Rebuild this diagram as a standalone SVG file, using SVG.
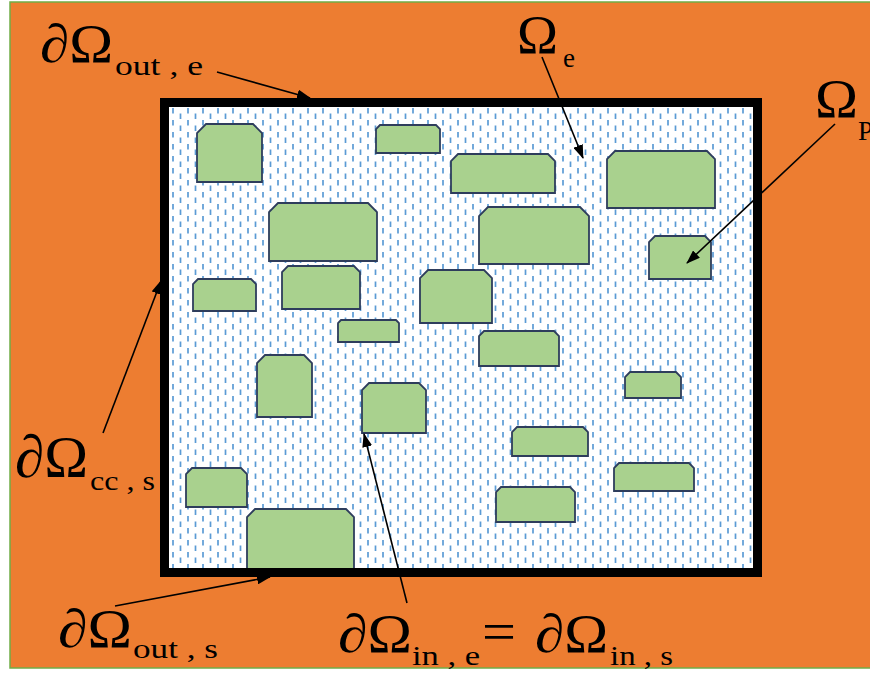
<svg xmlns="http://www.w3.org/2000/svg" width="870" height="675" viewBox="0 0 870 675">
<style>
.p{fill:#a9d18e;stroke:#2e3d5c;stroke-width:1.8;stroke-linejoin:miter}
.big{font-family:"Liberation Serif","DejaVu Serif",serif;font-size:54px;fill:#000}
.sub{font-family:"Liberation Serif","DejaVu Serif",serif;font-size:27px;fill:#000}
.ar{stroke:#000;stroke-width:1.6;fill:none;marker-end:url(#ah)}
</style>
<defs>
<pattern id="dash" patternUnits="userSpaceOnUse" x="169" y="107" width="15" height="12">
<rect width="15" height="12" fill="#ffffff"/>
<line x1="4" y1="1" x2="4" y2="6.5" stroke="#5b9bd5" stroke-width="1.7"/>
<line x1="11.5" y1="6.5" x2="11.5" y2="12" stroke="#5b9bd5" stroke-width="1.7"/>
</pattern>
<marker id="ah" markerUnits="userSpaceOnUse" markerWidth="14" markerHeight="10" refX="13" refY="5" orient="auto">
<path d="M0,0 L14,5 L0,10 z" fill="#000"/>
</marker>
</defs>
<rect x="0" y="0" width="870" height="675" fill="#ffffff"/>
<rect id="background" x="10" y="2" width="862" height="666" fill="#ed7d31" stroke="#70ad47" stroke-width="1.5"/>
<g id="domain">
<rect x="164" y="102" width="594" height="471" fill="url(#dash)"/>
</g>
<g id="particles">
<g id="p1"><path class="p" d="M197,182 L197,133 L206,124 L253,124 L262,133 L262,182 Z"/></g>
<g id="p2"><path class="p" d="M376,153 L376,129 L380,125 L436,125 L440,129 L440,153 Z"/></g>
<g id="p3"><path class="p" d="M451,193 L451,161 L458,154 L548,154 L555,161 L555,193 Z"/></g>
<g id="p4"><path class="p" d="M607,208 L607,159 L615,151 L707,151 L715,159 L715,208 Z"/></g>
<g id="p5"><path class="p" d="M269,261 L269,212 L278,203 L368,203 L377,212 L377,261 Z"/></g>
<g id="p6"><path class="p" d="M479,264 L479,216 L488,207 L580,207 L589,216 L589,264 Z"/></g>
<g id="p7"><path class="p" d="M649,279 L649,242 L655,236 L705,236 L711,242 L711,279 Z"/></g>
<g id="p8"><path class="p" d="M193,311 L193,284 L198,279 L251,279 L256,284 L256,311 Z"/></g>
<g id="p9"><path class="p" d="M282,309 L282,272 L288,266 L354,266 L360,272 L360,309 Z"/></g>
<g id="p10"><path class="p" d="M420,323 L420,278 L428,270 L484,270 L492,278 L492,323 Z"/></g>
<g id="p11"><path class="p" d="M338,342 L338,323 L341,320 L396,320 L399,323 L399,342 Z"/></g>
<g id="p12"><path class="p" d="M479,366 L479,336 L484,331 L554,331 L559,336 L559,366 Z"/></g>
<g id="p13"><path class="p" d="M257,417 L257,363 L265,355 L304,355 L312,363 L312,417 Z"/></g>
<g id="p14"><path class="p" d="M625,398 L625,377 L630,372 L676,372 L681,377 L681,398 Z"/></g>
<g id="p15"><path class="p" d="M362,433 L362,390 L369,383 L419,383 L426,390 L426,433 Z"/></g>
<g id="p16"><path class="p" d="M512,456 L512,432 L517,427 L583,427 L588,432 L588,456 Z"/></g>
<g id="p17"><path class="p" d="M186,507 L186,474 L192,468 L241,468 L247,474 L247,507 Z"/></g>
<g id="p18"><path class="p" d="M614,491 L614,468 L619,463 L689,463 L694,468 L694,491 Z"/></g>
<g id="p19"><path class="p" d="M496,522 L496,492 L501,487 L570,487 L575,492 L575,522 Z"/></g>
<g id="p20"><path class="p" d="M247,570 L247,517 L255,509 L346,509 L354,517 L354,570 Z"/></g>
</g>
<g id="boundary">
<rect x="164.5" y="102.5" width="593" height="470" fill="none" stroke="#000" stroke-width="9"/>
</g>
<g id="connectors">
<path class="ar" d="M217,72 L310,98"/>
<path class="ar" d="M542,57 L583,158"/>
<path class="ar" d="M835,124 L687,263"/>
<path class="ar" d="M103,433 L161,281"/>
<path class="ar" d="M115,606 L270,577"/>
<path class="ar" d="M407,603 L364,434"/>
</g>
<g id="label-out-e">
<text class="big" x="40" y="62" textLength="73" lengthAdjust="spacingAndGlyphs">∂Ω</text>
<text class="sub" x="115" y="75" textLength="88" lengthAdjust="spacingAndGlyphs">out , e</text>
</g>
<g id="label-omega-e">
<text class="big" x="517" y="53" textLength="41" lengthAdjust="spacingAndGlyphs">Ω</text>
<text class="sub" x="563" y="67">e</text>
</g>
<g id="label-omega-p">
<text class="big" x="815" y="117" textLength="43" lengthAdjust="spacingAndGlyphs">Ω</text>
<text class="sub" x="858" y="140">P</text>
</g>
<g id="label-cc-s">
<text class="big" x="15" y="477" style="font-size:60px" textLength="73" lengthAdjust="spacingAndGlyphs">∂Ω</text>
<text class="sub" x="90" y="490" textLength="65" lengthAdjust="spacingAndGlyphs">cc , s</text>
</g>
<g id="label-out-s">
<text class="big" x="58" y="647" textLength="74" lengthAdjust="spacingAndGlyphs">∂Ω</text>
<text class="sub" x="133" y="658" textLength="85" lengthAdjust="spacingAndGlyphs">out , s</text>
</g>
<g id="label-in">
<text class="big" x="338" y="652" textLength="74" lengthAdjust="spacingAndGlyphs">∂Ω</text>
<text class="sub" x="412" y="665" textLength="68" lengthAdjust="spacingAndGlyphs">in , e</text>
<text class="big" x="482" y="650" textLength="34" lengthAdjust="spacingAndGlyphs">=</text>
<text class="big" x="535" y="652" textLength="73" lengthAdjust="spacingAndGlyphs">∂Ω</text>
<text class="sub" x="610" y="665" textLength="63" lengthAdjust="spacingAndGlyphs">in , s</text>
</g>
</svg>
